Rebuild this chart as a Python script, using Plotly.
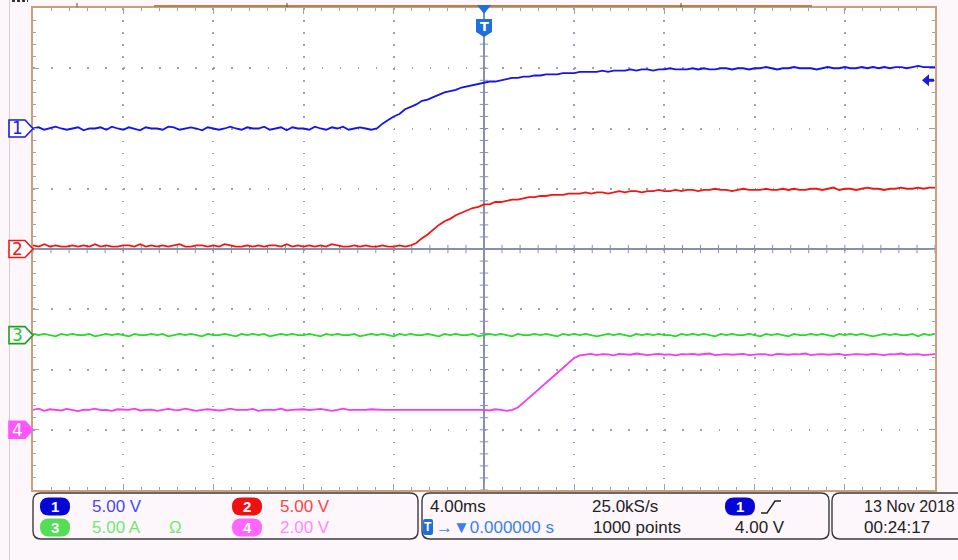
import plotly.graph_objects as go

# ---------------------------------------------------------------------------
# Acquisition: 25 kS/s record, shown at 0.25 ms resolution, +-20 ms around trigger
# ---------------------------------------------------------------------------
SAMPLE_STEP_MS = 0.25
time_ms = [round(-20 + SAMPLE_STEP_MS * i, 2) for i in range(161)]

# Channel 1 (V)
ch1_volts = [
    0.0, 0.1, -0.1, 0.0, 0.15, 0.0, -0.1, 0.0, 0.1, -0.15,
    0.0, 0.0, 0.1, -0.1, 0.15, 0.0, -0.1, 0.1, 0.0, -0.15,
    0.1, 0.0, 0.0, -0.1, 0.15, 0.1, -0.1, 0.0, 0.1, 0.0,
    -0.15, 0.1, 0.0, -0.1, 0.0, 0.15, 0.0, -0.1, 0.1, 0.0,
    0.0, 0.15, -0.1, 0.0, 0.1, -0.15, 0.1, 0.0, 0.0, -0.1,
    0.15, 0.0, -0.1, 0.1, 0.0, 0.15, -0.1, 0.0, 0.1, 0.0,
    -0.1,
    0.0, 0.4, 0.7, 1.0, 1.2, 1.6, 1.8, 2.0, 2.3, 2.4,
    2.6, 2.8, 3.0, 3.1, 3.2, 3.4, 3.5, 3.6, 3.7, 3.8,
    3.9, 3.9, 4.0, 4.1, 4.2, 4.2, 4.3, 4.3, 4.4, 4.4,
    4.5, 4.5, 4.5, 4.6, 4.6, 4.6, 4.7, 4.7, 4.7, 4.7,
    4.8, 4.7, 4.8, 4.8, 4.8, 4.9, 4.8, 4.9, 4.9, 4.8,
    4.9, 4.9, 5.0, 4.9, 4.9, 4.9, 5.0, 4.9, 5.0, 4.9,
    4.9, 5.0, 5.0, 4.9, 5.0, 5.0, 4.9, 5.0, 5.0, 5.1,
    5.0, 4.9, 5.0, 5.0, 5.1, 5.0, 5.0, 5.0, 4.9, 5.0,
    5.1, 5.0, 5.0, 5.1, 5.0, 5.0, 5.1, 5.0, 5.1, 5.0,
    5.1, 5.0, 5.1, 5.1, 5.0, 5.1, 5.2, 5.1, 5.1, 5.1,
]

# Channel 2 (V)
ch2_volts = [
    0.3, 0.2, 0.4, 0.2, 0.3, 0.2, 0.2, 0.3, 0.2, 0.3,
    0.2, 0.4, 0.2, 0.3, 0.2, 0.2, 0.3, 0.3, 0.2, 0.4,
    0.2, 0.3, 0.2, 0.3, 0.2, 0.3, 0.4, 0.2, 0.2, 0.3,
    0.3, 0.2, 0.3, 0.2, 0.4, 0.3, 0.2, 0.2, 0.3, 0.2,
    0.3, 0.2, 0.3, 0.3, 0.2, 0.4, 0.2, 0.3, 0.2, 0.3,
    0.2, 0.3, 0.2, 0.4, 0.3, 0.2, 0.2, 0.3, 0.2, 0.3,
    0.2, 0.2, 0.3, 0.2, 0.2, 0.3, 0.2,
    0.3, 0.5, 0.9, 1.2, 1.6, 2.0, 2.3, 2.5, 2.8, 3.0,
    3.2, 3.4, 3.5, 3.7, 3.7, 3.9, 3.9, 4.0, 4.1, 4.1,
    4.2, 4.3, 4.3, 4.4, 4.4, 4.5, 4.5, 4.5, 4.6, 4.6,
    4.6, 4.7, 4.6, 4.7, 4.7, 4.6, 4.7, 4.8,
    4.7, 4.8, 4.8, 4.7, 4.8, 4.8, 4.9, 4.8,
    4.8, 4.9, 4.8, 4.9, 4.9, 4.8, 4.9, 4.9,
    5.0, 4.9, 4.9, 4.8, 4.9, 5.0, 4.9, 4.9,
    4.9, 5.0, 4.9, 4.9, 5.0, 4.9, 5.0, 4.9,
    4.9, 5.0, 5.0, 4.9, 5.0, 5.1, 4.9, 5.0,
    5.0, 4.9, 5.0, 5.1, 5.0, 5.0, 4.9, 5.0,
    5.0, 5.1, 5.0, 5.0, 5.1, 5.0, 5.1, 5.1,
]

# Channel 3 (A)
ch3_amps = [
    0.1, 0.0, 0.1, 0.0, -0.1, 0.1, 0.0, 0.1, 0.0, 0.0,
    0.1, -0.1, 0.0, 0.1, 0.0, 0.1, 0.0, -0.1, 0.1, 0.0,
    0.0, 0.1, 0.0, 0.1, -0.1, 0.0, 0.1, 0.0, 0.1, 0.0,
    -0.1, 0.1, 0.0, 0.0, 0.1, 0.0, -0.1, 0.1, 0.0, 0.1,
    0.0, 0.1, -0.1, 0.0, 0.1, 0.0, 0.1, 0.0, 0.0, 0.1,
    0.0, -0.1, 0.1, 0.0, 0.1, 0.0, 0.0, 0.1, -0.1, 0.0,
    0.1, 0.0, 0.1, 0.0, -0.1, 0.1, 0.0, 0.1, 0.0, 0.0,
    0.1, 0.0, -0.1, 0.1, 0.0, 0.1, 0.0, 0.0, 0.1, -0.1,
    0.0, 0.1, 0.0, 0.1, 0.0, -0.1, 0.1, 0.0, 0.0, 0.1,
    0.0, 0.1, 0.0, -0.1, 0.1, 0.0, 0.1, 0.0, 0.1, 0.0,
    -0.1, 0.0, 0.1, 0.0, 0.1, 0.0, -0.1, 0.1, 0.0, 0.1,
    0.0, 0.1, 0.0, 0.0, -0.1, 0.1, 0.0, 0.1, 0.0, 0.1,
    0.0, -0.1, 0.1, 0.0, 0.1, 0.0, 0.0, 0.1, 0.0, -0.1,
    0.1, 0.0, 0.1, 0.0, -0.1, 0.1, 0.0, 0.0, 0.1, 0.0,
    0.1, 0.0, -0.1, 0.1, 0.0, 0.1, 0.0, 0.1, 0.0, -0.1,
    0.0, 0.1, 0.0, 0.1, 0.0, 0.0, 0.1, -0.1, 0.1, 0.0,
    0.1,
]

# Channel 4 (V)
ch4_volts = [
    0.66, 0.70, 0.63, 0.68, 0.66, 0.64, 0.69, 0.66, 0.62, 0.67,
    0.66, 0.70, 0.65, 0.66, 0.63, 0.68, 0.66, 0.66, 0.70, 0.64,
    0.66, 0.67, 0.63, 0.66, 0.69, 0.66, 0.65, 0.70, 0.66, 0.63,
    0.66, 0.68, 0.66, 0.64, 0.66, 0.70, 0.66, 0.65, 0.66, 0.69,
    0.63, 0.66, 0.67, 0.66, 0.70, 0.64, 0.66, 0.66, 0.68, 0.65,
    0.66, 0.69, 0.66, 0.63, 0.66, 0.70, 0.66, 0.66, 0.64, 0.66,
    0.68, 0.66, 0.66, 0.66, 0.66, 0.67, 0.66, 0.66, 0.66, 0.66,
    0.66, 0.66, 0.66, 0.67, 0.66, 0.66, 0.66, 0.66, 0.66, 0.66,
    0.66, 0.64, 0.68, 0.66, 0.63, 0.66,
    0.74, 0.90, 1.06, 1.22, 1.38, 1.55, 1.72, 1.88, 2.05, 2.22,
    2.38, 2.47,
    2.50, 2.52, 2.48, 2.51, 2.50, 2.47, 2.52, 2.50, 2.49, 2.53,
    2.50, 2.48, 2.50, 2.52, 2.49, 2.50, 2.47, 2.51, 2.50, 2.52,
    2.49, 2.50, 2.53, 2.48, 2.50, 2.51, 2.49, 2.50, 2.52, 2.48,
    2.50, 2.51, 2.50, 2.47, 2.52, 2.50, 2.49, 2.51, 2.50, 2.53,
    2.48, 2.50, 2.51, 2.49, 2.50, 2.52, 2.48, 2.50, 2.51, 2.50,
    2.49, 2.52, 2.50, 2.48, 2.51, 2.50, 2.53, 2.49, 2.50, 2.51,
    2.48, 2.50, 2.51,
]

# Vertical settings per channel
ch_names = ["1", "2", "3", "4"]
ch_scale = [5.00, 5.00, 5.00, 2.00]          # units / division
ch_units = ["V", "V", "A", "V"]
ch_ground_div = [2.0, 0.0, -1.43, -3.0]      # ground reference, divisions from centre
ch_data = [ch1_volts, ch2_volts, ch3_amps, ch4_volts]

# Horizontal / trigger settings
timebase_ms = 4.00
sample_rate = "25.0kS/s"
record_len = "1000 points"
trigger_level_v = 4.00
trigger_delay = "0.000000 s"
date_str = "13 Nov 2018"
time_str = "00:24:17"

# ---------------------------------------------------------------------------
# Styling
# ---------------------------------------------------------------------------
W, H = 958, 560
PLOT_L, PLOT_R, PLOT_T, PLOT_B = 33, 935, 8, 490
trace_col = ["#1414ee", "#f51414", "#22dd22", "#f23cf2"]
tag_line = ["#1a1ae0", "#ee1a1a", "#1f9f1f", "#ff55ff"]
tag_fill = ["#ffffff", "#ffffff", "#ffffff", "#ff55ff"]
tag_text = ["#1a1ae0", "#ee1a1a", "#33c033", "#ffffff"]
pill_col = ["#0505d8", "#ee1111", "#55dd55", "#ff66ff"]
value_col = ["#4848f4", "#ff4444", "#70e870", "#ff88ff"]
BG = "#fdf7fc"
FRAME = "#c9a07c"
GRID = "#9aa2bb"
CENTER = "#8490ae"
TRIG_BLUE = "#1f6fe0"
FONT = "Liberation Sans"

fig = go.Figure()

# centre-line graticule ticks
minor_x = [round(-20 + 0.8 * i, 2) for i in range(51)]
minor_y = [round(-4 + 0.2 * i, 2) for i in range(41)]
fig.add_trace(go.Scatter(x=minor_x, y=[0] * len(minor_x), mode="markers", hoverinfo="skip",
                         marker=dict(symbol="line-ns", size=6, line=dict(width=1, color=CENTER))))
fig.add_trace(go.Scatter(x=[0] * len(minor_y), y=minor_y, mode="markers", hoverinfo="skip",
                         marker=dict(symbol="line-ew", size=6, line=dict(width=1, color=CENTER))))

# waveforms, placed on the graticule by ground offset and V/div
for k in range(4):
    y_div = [ch_ground_div[k] + v / ch_scale[k] for v in ch_data[k]]
    fig.add_trace(go.Scatter(x=time_ms, y=y_div, mode="lines", hoverinfo="skip",
                             line=dict(color=trace_col[k], width=1.8)))


def P(x, y):
    return f"{x / W:.5f},{1 - y / H:.5f}"


def rrect_path(x0, y0, x1, y1, r):
    return (f"M {P(x0 + r, y0)} L {P(x1 - r, y0)} Q {P(x1, y0)} {P(x1, y0 + r)} "
            f"L {P(x1, y1 - r)} Q {P(x1, y1)} {P(x1 - r, y1)} L {P(x0 + r, y1)} "
            f"Q {P(x0, y1)} {P(x0, y1 - r)} L {P(x0, y0 + r)} Q {P(x0, y0)} {P(x0 + r, y0)} Z")


shapes = []
annotations = []


def text(x, y, s, color, size=17, anchor="left"):
    annotations.append(dict(x=x / W, y=1 - y / H, xref="paper", yref="paper", text=s,
                            showarrow=False, xanchor=anchor, yanchor="middle",
                            font=dict(family=FONT, size=size, color=color)))


def pill(x0, x1, yc, color, label):
    shapes.append(dict(type="path", xref="paper", yref="paper",
                       path=rrect_path(x0, yc - 9, x1, yc + 9, 9),
                       fillcolor=color, line=dict(width=0), layer="above"))
    text((x0 + x1) / 2, yc, f"<b>{label}</b>", "#ffffff", size=15, anchor="center")


# left edge rule and top memory bar
shapes.append(dict(type="line", xref="paper", yref="paper", x0=9.5 / W, x1=9.5 / W, y0=0, y1=1,
                   line=dict(color="#d4cdd6", width=1)))
shapes.append(dict(type="line", xref="paper", yref="paper", x0=154 / W, x1=812 / W,
                   y0=1 - 6 / H, y1=1 - 6 / H, line=dict(color="#b5834f", width=2)))
for tx in (77, 287, 681):
    shapes.append(dict(type="line", xref="paper", yref="paper", x0=tx / W, x1=tx / W,
                       y0=1 - 3 / H, y1=1 - 7 / H, line=dict(color="#555555", width=1)))
shapes.append(dict(type="line", xref="paper", yref="paper", x0=12 / W, x1=28 / W,
                   y0=1 - 1 / H, y1=1 - 1 / H, line=dict(color="#333333", width=2, dash="3px,2px")))

# channel ground tags on the left edge
for k in range(4):
    shapes.append(dict(type="path", xref="x domain", yref="y", xsizemode="pixel", ysizemode="pixel",
                       xanchor=0, yanchor=ch_ground_div[k],
                       path="M -24,-8.5 L -8,-8.5 L 0,0 L -8,8.5 L -24,8.5 Z",
                       fillcolor=tag_fill[k], line=dict(color=tag_line[k], width=1.6), layer="above"))
    annotations.append(dict(x=0, y=ch_ground_div[k], xref="x domain", yref="y", xshift=-16,
                            text=ch_names[k], showarrow=False, xanchor="center", yanchor="middle",
                            font=dict(family="DejaVu Sans", size=17, color=tag_text[k])))

# trigger position marker at the top of the graticule
shapes.append(dict(type="path", xref="x", yref="y domain", xsizemode="pixel", ysizemode="pixel",
                   xanchor=0, yanchor=1, path="M -7,3 L 7,3 L 0,-6 Z",
                   fillcolor=TRIG_BLUE, line=dict(width=0), layer="above"))
shapes.append(dict(type="path", xref="x", yref="y domain", xsizemode="pixel", ysizemode="pixel",
                   xanchor=0, yanchor=1,
                   path="M -8,-11 L 8,-11 L 8,-24 L 0,-29 L -8,-24 Z",
                   fillcolor=TRIG_BLUE, line=dict(width=0), layer="above"))
annotations.append(dict(x=0, y=1, xref="x", yref="y domain", yshift=-19, text="<b>T</b>",
                        showarrow=False, xanchor="center", yanchor="middle",
                        font=dict(family="DejaVu Sans", size=13, color="#ffffff")))

# trigger level arrow on the right edge (channel 1)
trig_div = ch_ground_div[0] + trigger_level_v / ch_scale[0]
shapes.append(dict(type="path", xref="x", yref="y", xsizemode="pixel", ysizemode="pixel",
                   xanchor=20, yanchor=trig_div,
                   path="M -13,0 L -6,6 L -6,1.5 L -1,1.5 L -1,-1.5 L -6,-1.5 L -6,-6 Z",
                   fillcolor="#1a1ae0", line=dict(width=0), layer="above"))

# ---------------------------------------------------------------------------
# Status panel under the graticule
# ---------------------------------------------------------------------------
ROW1, ROW2 = 506.5, 527.5
for x0, x1 in ((33, 418), (422, 829), (832, 990)):
    shapes.append(dict(type="path", xref="paper", yref="paper",
                       path=rrect_path(x0, 493, x1, 539, 8),
                       fillcolor="rgba(0,0,0,0)", line=dict(color="#3a3a3a", width=1.4)))

scale_txt = [f"{ch_scale[k]:.2f} {ch_units[k]}" for k in range(4)]
pill(40, 70, ROW1, pill_col[0], ch_names[0])
text(90, ROW1, scale_txt[0], value_col[0])
pill(232, 262, ROW1, pill_col[1], ch_names[1])
text(278, ROW1, scale_txt[1], value_col[1])
pill(40, 70, ROW2, pill_col[2], ch_names[2])
text(90, ROW2, scale_txt[2], value_col[2])
text(167, ROW2, "Ω", value_col[2])
pill(232, 262, ROW2, pill_col[3], ch_names[3])
text(278, ROW2, scale_txt[3], value_col[3])

text(428, ROW1, f"{timebase_ms:.2f}ms", "#222222")
text(590, ROW1, sample_rate, "#222222")
pill(725, 755, ROW1, pill_col[0], ch_names[0])
shapes.append(dict(type="path", xref="paper", yref="paper",
                   path=f"M {P(761, 513)} L {P(767, 513)} L {P(775, 501)} L {P(781, 501)}",
                   line=dict(color="#222222", width=1.5)))
shapes.append(dict(type="path", xref="paper", yref="paper",
                   path=rrect_path(423, 519, 433, 535, 2),
                   fillcolor=TRIG_BLUE, line=dict(width=0), layer="above"))
text(428, 527, "<b>T</b>", "#ffffff", size=12, anchor="center")
text(434, ROW2, "→▼" + trigger_delay, "#3a80f0")
text(591, ROW2, record_len, "#222222")
text(733, ROW2, f"{trigger_level_v:.2f} V", "#222222")

text(862, ROW1, date_str, "#222222", size=16)
text(862, ROW2, time_str, "#222222")

# ---------------------------------------------------------------------------
axis_common = dict(showticklabels=False, showline=True, linecolor=FRAME, linewidth=2,
                   mirror="ticks", ticks="inside", ticklen=6, tickwidth=1, tickcolor=GRID,
                   showgrid=True, gridcolor=GRID, gridwidth=1.5,
                   zeroline=True, zerolinecolor=CENTER, zerolinewidth=2, fixedrange=True)

fig.update_layout(
    width=W, height=H, margin=dict(l=0, r=0, t=0, b=0),
    paper_bgcolor=BG, plot_bgcolor="#ffffff", showlegend=False, hovermode=False,
    xaxis=dict(range=[-20, 20], domain=[PLOT_L / W, PLOT_R / W], tick0=0, dtick=timebase_ms,
               griddash="1.5px,10.55px",
               minor=dict(dtick=timebase_ms / 5, ticks="inside", ticklen=3, tickcolor=GRID, showgrid=False),
               **axis_common),
    yaxis=dict(range=[-4, 4], domain=[1 - PLOT_B / H, 1 - PLOT_T / H], tick0=0, dtick=1,
               griddash="1.5px,16.54px",
               minor=dict(dtick=0.2, ticks="inside", ticklen=3, tickcolor=GRID, showgrid=False),
               **axis_common),
    shapes=shapes, annotations=annotations,
)

fig.write_html("out.html")
